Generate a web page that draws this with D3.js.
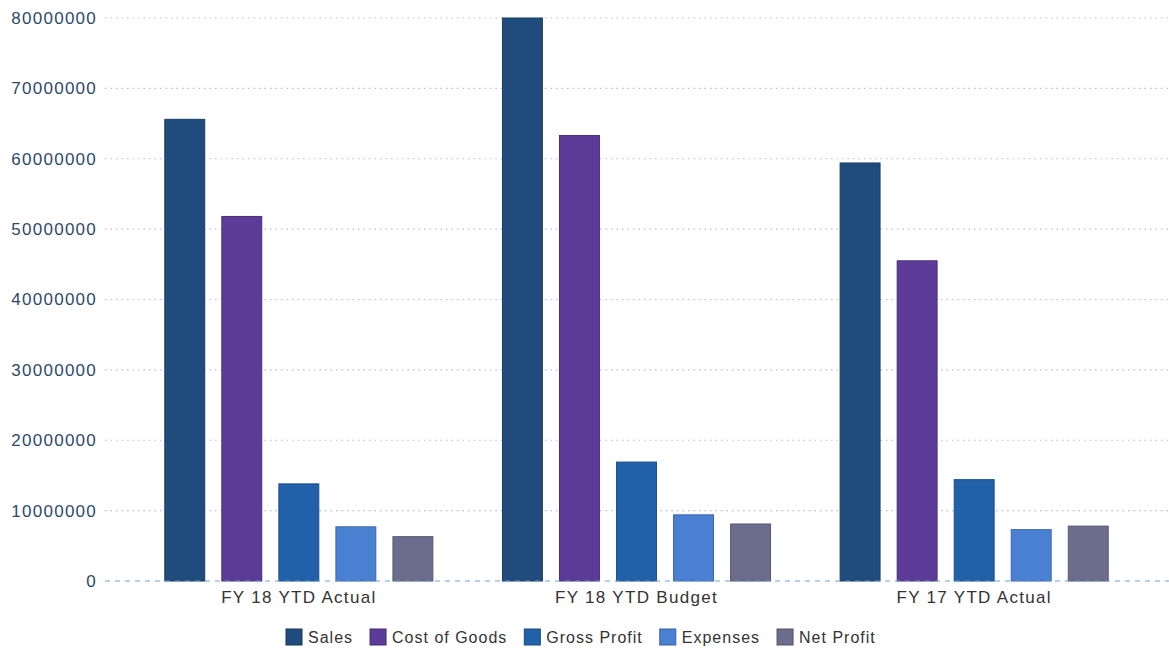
<!DOCTYPE html>
<html><head><meta charset="utf-8">
<script src="https://cdn.jsdelivr.net/npm/d3@7"></script>
<style>
html,body{margin:0;padding:0;background:#fff;}
svg{display:block;font-family:"Liberation Sans",Arial,sans-serif;}
</style></head>
<body><svg id="chart" width="1169" height="650"></svg>
<script>
const categories = ["FY 18 YTD Actual", "FY 18 YTD Budget", "FY 17 YTD Actual"];
const seriesNames = ["Sales", "Cost of Goods", "Gross Profit", "Expenses", "Net Profit"];
const sales       = [65600000, 80000000, 59400000];
const costOfGoods = [51800000, 63300000, 45500000];
const grossProfit = [13800000, 16900000, 14400000];
const expenses    = [7700000, 9400000, 7300000];
const netProfit   = [6300000, 8100000, 7800000];
const yTicks = [0, 10000000, 20000000, 30000000, 40000000, 50000000, 60000000, 70000000, 80000000];
const colors = ["#1f4c7c", "#5c3c98", "#2161aa", "#4a80d2", "#6c6d8c"];

const seriesValues = [sales, costOfGoods, grossProfit, expenses, netProfit];
const svg = d3.select("#chart");
const plotTop = 18, plotBottom = 581;

const y = d3.scaleLinear().domain([0, 80000000]).range([plotBottom, plotTop]);
const x0 = d3.scaleBand().domain(categories).range([130, 1143]).padding(0);
const x1 = d3.scaleBand().domain(seriesNames).range([0, x0.bandwidth()])
  .paddingInner(0.3).paddingOuter(0.61);
const color = d3.scaleOrdinal().domain(seriesNames).range(colors);

// gridlines
svg.append("g").selectAll("line").data(yTicks.filter(d => d > 0)).join("line")
  .attr("x1", 105).attr("x2", 1169)
  .attr("y1", d => y(d)).attr("y2", d => y(d))
  .attr("stroke", "#b8c0cc").attr("stroke-width", 1.2)
  .attr("stroke-dasharray", "1.5,4");

// y axis labels
const yAxis = d3.axisLeft(y).tickValues(yTicks).tickSize(0).tickPadding(0).tickFormat(d3.format("d"));
const yg = svg.append("g").attr("transform", "translate(97,0)").call(yAxis);
yg.select(".domain").remove();
yg.selectAll("text").attr("font-size", 17).attr("fill", "#2c4a6c")
  .attr("letter-spacing", "1.25px")
  .attr("font-family", "Liberation Sans, Arial, sans-serif");

// bars
const groups = svg.append("g").selectAll("g").data(categories).join("g")
  .attr("transform", d => `translate(${x0(d)},0)`);
groups.selectAll("rect")
  .data((c, i) => seriesNames.map((s, k) => ({ s, v: seriesValues[k][i] })))
  .join("rect")
  .attr("x", d => x1(d.s)).attr("width", x1.bandwidth())
  .attr("y", d => y(d.v)).attr("height", d => y(0) - y(d.v))
  .attr("fill", d => color(d.s))
  .attr("stroke", d => d3.color(color(d.s)).darker(0.6)).attr("stroke-width", 1);

// zero baseline
svg.append("line").attr("x1", 105).attr("x2", 1169)
  .attr("y1", y(0)).attr("y2", y(0))
  .attr("stroke", "#6fa3d2").attr("stroke-width", 1.2).attr("stroke-dasharray", "5,5");

// x axis labels
const xAxis = d3.axisBottom(x0).tickSize(0).tickPadding(10);
const xg = svg.append("g").attr("transform", `translate(0,${plotBottom})`).call(xAxis);
xg.select(".domain").remove();
xg.selectAll("text").attr("font-size", 17).attr("fill", "#333")
  .attr("letter-spacing", "1.3px")
  .attr("font-family", "Liberation Sans, Arial, sans-serif");

// legend
const legendItems = seriesNames.map(s => ({ s }));
const legend = svg.append("g").attr("transform", "translate(286,637)");
let lx = 0;
const tmp = svg.append("text").attr("font-size", 16).attr("letter-spacing", "1px")
  .attr("font-family", "Liberation Sans, Arial, sans-serif");
legendItems.forEach(d => {
  tmp.text(d.s);
  d.w = tmp.node().getComputedTextLength();
  d.x = lx;
  lx += 16 + 6 + d.w + 17;
});
tmp.remove();
const li = legend.selectAll("g").data(legendItems).join("g")
  .attr("transform", d => `translate(${d.x},0)`);
li.append("rect").attr("x", 0).attr("y", -8).attr("width", 16).attr("height", 16)
  .attr("fill", d => color(d.s)).attr("stroke", d => d3.color(color(d.s)).darker(0.8));
li.append("text").attr("x", 22).attr("y", 0).attr("dy", "0.35em")
  .attr("font-size", 16).attr("letter-spacing", "1px").attr("fill", "#333").text(d => d.s);
</script>
</body></html>
